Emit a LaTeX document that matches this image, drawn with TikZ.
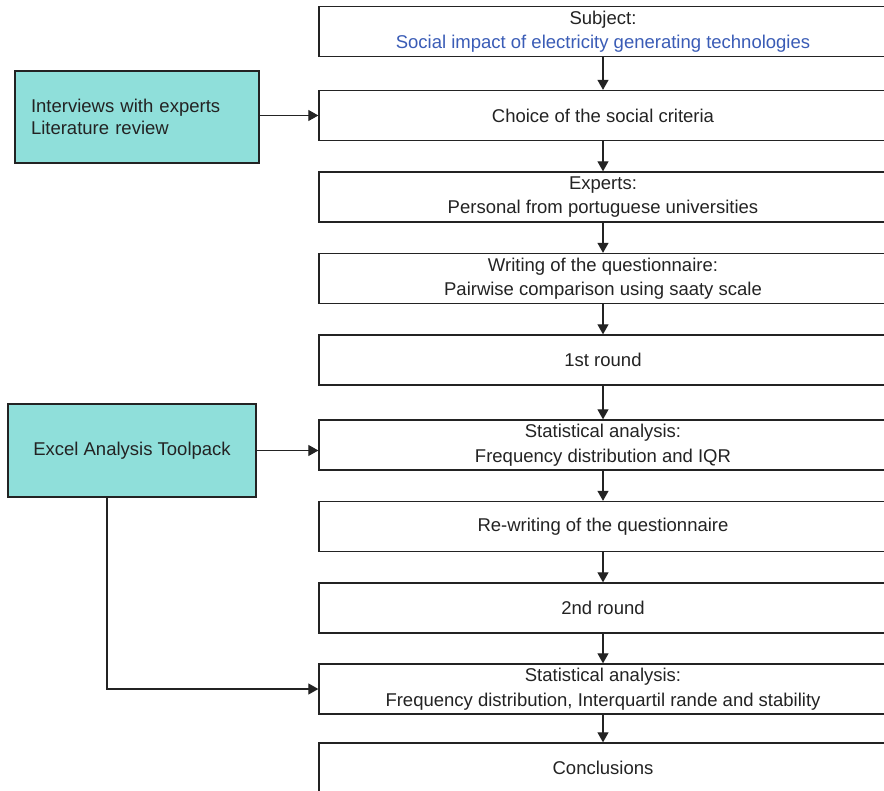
\documentclass[tikz,border=0pt]{standalone}
\usepackage{fontspec}
\setmainfont{Liberation Sans}
\usetikzlibrary{arrows.meta,calc}
\definecolor{boxfill}{RGB}{143,223,218}
\definecolor{subjblue}{RGB}{58,92,182}
\definecolor{ink}{RGB}{35,35,35}
\tikzset{
  flowbox/.style={draw=ink, line width=1.3pt, fill=white, minimum width=568pt, minimum height=50pt, inner sep=0pt, align=center, text=ink, font=\fontsize{18.5}{24.5}\selectfont},
  sidebox/.style={draw=ink, line width=1.3pt, fill=boxfill, inner sep=0pt, text=ink, font=\fontsize{18.5}{22.5}\selectfont},
  arr/.style={draw=ink, line width=1.1pt, -{Triangle[length=10pt,width=11pt]}}
}
\begin{document}
\begin{tikzpicture}[x=1pt,y=-1pt]
\useasboundingbox (0,0) rectangle (884,791);
\node[flowbox] (b1) at (603,31.5) {Subject:\\\textcolor{subjblue}{Social impact of electricity generating technologies}};
\node[flowbox] (b2) at (603,115.5) {Choice of the social criteria};
\node[flowbox] (b3) at (603,197) {Experts:\\Personal from portuguese universities};
\node[flowbox] (b4) at (603,278.5) {Writing of the questionnaire:\\Pairwise comparison using saaty scale};
\node[flowbox] (b5) at (603,360) {1st round};
\node[flowbox] (b6) at (603,445) {Statistical analysis:\\Frequency distribution and IQR};
\node[flowbox] (b7) at (603,526.5) {Re-writing of the questionnaire};
\node[flowbox] (b8) at (603,608) {2nd round};
\node[flowbox] (b9) at (603,689) {Statistical analysis:\\Frequency distribution, Interquartil rande and stability};
\node[flowbox] (b10) at (603,768) {Conclusions};

\node[sidebox, minimum width=244pt, minimum height=92pt, text width=212pt, inner xsep=16pt, align=left] (A) at (137,117) {Interviews with experts\\Literature review};
\node[sidebox, minimum width=248pt, minimum height=93pt, align=center] (B) at (132,450.5) {Excel Analysis Toolpack};

\foreach \a/\b in {b1/b2,b2/b3,b3/b4,b4/b5,b5/b6,b6/b7,b7/b8,b8/b9,b9/b10}
  \draw[arr] (\a.south) -- (\b.north);

\draw[arr] (A.east |- b2.west) -- (b2.west);
\draw[arr] (B.east) -- (B.east -| b6.west);
\draw[arr] ([xshift=-25pt]B.south) |- (b9.west);
\end{tikzpicture}
\end{document}
